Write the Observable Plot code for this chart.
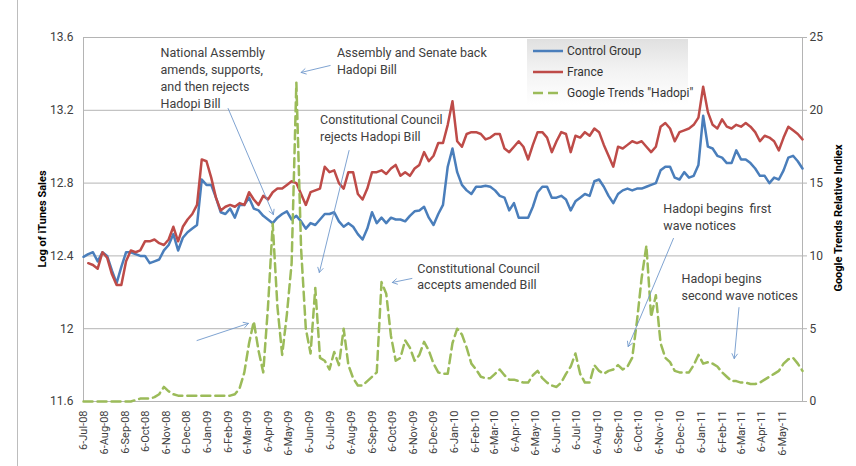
<!DOCTYPE html>
<html>
<head>
<meta charset="utf-8">
<script src="https://cdn.jsdelivr.net/npm/d3@7"></script>
<script src="https://cdn.jsdelivr.net/npm/@observablehq/plot@0.6"></script>
<style>
html,body{margin:0;padding:0;background:#fff;}
#wrap{position:relative;width:856px;height:466px;overflow:hidden;font-family:Roboto,"Noto Sans",sans-serif;}
#chart svg{position:absolute;left:0;top:0;}
.atitle{position:absolute;font-weight:bold;font-size:11px;color:#000;white-space:nowrap;transform:translate(-50%,-50%) rotate(-90deg);}
#legend{position:absolute;left:527px;top:39px;width:161px;height:66px;background:linear-gradient(to bottom,#e0e0e0 0%,#f2f2f2 45%,rgba(255,255,255,0) 100%);font-size:12px;color:#333;}
#legend .lg{position:absolute;left:6px;height:16px;display:flex;align-items:center;white-space:nowrap;}
#legend .lg svg{display:block;margin-right:4px;}
#border{position:absolute;left:17px;top:0;width:835px;height:470px;border-left:1px solid #bdbdbd;}
</style>
</head>
<body>
<div id="wrap">
  <div id="border"></div>
  <div id="chart"></div>
  <div id="legend"></div>
  <div class="atitle" id="ltitle" style="left:42px;top:219px;"></div>
  <div class="atitle" id="rtitle" style="left:838px;top:218px;"></div>
</div>
<script>
// ---- data ----
const firstWeek = "2008-07-06"; // weekly observations, one per week
const controlGroup = [
12.395,12.41,12.42,12.37,12.42,12.40,12.32,12.25,12.34,12.42,
12.42,12.41,12.40,12.40,12.36,12.37,12.38,12.43,12.46,12.52,
12.43,12.50,12.53,12.55,12.57,12.82,12.79,12.79,12.72,12.64,
12.63,12.66,12.61,12.68,12.68,12.72,12.66,12.65,12.62,12.60,
12.58,12.61,12.63,12.645,12.60,12.62,12.59,12.55,12.58,12.57,
12.60,12.63,12.63,12.64,12.59,12.56,12.58,12.56,12.52,12.49,
12.55,12.64,12.58,12.61,12.58,12.61,12.60,12.60,12.59,12.62,
12.645,12.65,12.67,12.61,12.57,12.63,12.68,12.89,12.99,12.86,
12.79,12.76,12.74,12.78,12.78,12.785,12.78,12.76,12.73,12.72,
12.65,12.69,12.61,12.61,12.61,12.67,12.75,12.78,12.78,12.72,
12.72,12.73,12.71,12.65,12.70,12.72,12.74,12.73,12.81,12.82,
12.78,12.73,12.69,12.74,12.76,12.77,12.76,12.77,12.77,12.78,
12.79,12.80,12.87,12.89,12.89,12.83,12.82,12.86,12.83,12.84,
12.90,13.17,13.00,12.99,12.95,12.94,12.91,12.91,12.98,12.93,
12.93,12.91,12.88,12.84,12.84,12.80,12.83,12.82,12.87,12.94,
12.95,12.92,12.88];
const france = [
null,12.36,12.35,12.33,12.42,12.39,12.30,12.24,12.24,12.37,
12.43,12.42,12.43,12.48,12.48,12.49,12.47,12.46,12.49,12.56,
12.48,12.56,12.60,12.63,12.68,12.93,12.92,12.83,12.72,12.65,
12.67,12.68,12.67,12.69,12.68,12.75,12.71,12.68,12.73,12.71,
12.75,12.77,12.77,12.79,12.81,12.80,12.74,12.68,12.75,12.76,
12.77,12.89,12.86,12.87,12.80,12.77,12.86,12.86,12.74,12.71,
12.77,12.86,12.86,12.87,12.85,12.88,12.90,12.84,12.86,12.84,
12.88,12.90,12.97,12.92,12.95,13.02,13.02,13.12,13.25,13.03,
13.00,13.07,13.08,13.08,13.07,13.04,13.05,13.07,13.07,12.99,
12.97,13.00,13.03,13.00,12.93,13.01,13.08,13.08,13.05,12.97,
13.03,13.08,13.07,12.97,13.06,13.05,13.08,13.06,13.10,13.08,
13.01,12.95,12.89,13.00,12.99,13.01,13.03,13.02,13.03,13.00,
12.97,13.00,13.11,13.13,13.10,13.03,13.08,13.09,13.10,13.12,
13.16,13.33,13.19,13.12,13.10,13.15,13.11,13.10,13.12,13.11,
13.13,13.11,13.08,13.03,13.06,13.05,13.03,12.98,13.05,13.11,
13.09,13.07,13.04];
const googleTrends = [
0,0,0,0,0,0,0,0,0,0,
0,0.1,0.2,0.2,0.2,0.3,0.5,1.0,0.7,0.5,
0.4,0.4,0.4,0.4,0.4,0.4,0.4,0.4,0.4,0.4,
0.4,0.4,0.5,0.9,2.0,4.0,5.5,3.5,2.0,6.5,
12.2,6.5,3.2,6.0,9.5,21.9,10.5,5.0,3.3,7.8,
3.0,2.8,2.2,3.4,2.5,5.0,2.5,1.6,1.1,1.1,
1.4,1.7,2.0,8.2,7.4,4.5,2.8,3.0,4.2,3.7,
2.8,3.2,4.1,3.5,2.6,2.0,1.9,1.9,4.0,5.0,
4.6,3.7,2.6,2.2,1.7,1.6,1.6,1.9,2.2,1.8,
1.5,1.5,1.4,1.3,1.3,1.8,2.1,1.6,1.3,1.1,
1.0,1.3,1.9,2.4,3.3,1.9,1.3,1.3,2.5,2.1,
1.9,2.1,2.2,2.5,2.2,2.4,3.0,5.5,8.5,10.7,
5.8,7.3,4.0,3.0,2.7,2.1,2.0,2.0,2.0,2.5,
3.2,2.6,2.7,2.6,2.4,2.0,1.7,1.4,1.4,1.3,
1.3,1.2,1.2,1.3,1.5,1.7,1.9,2.1,2.6,2.9,
3.0,2.6,2.1];

const leftTicks = [11.6, 12, 12.4, 12.8, 13.2, 13.6];
const rightTicks = [0, 5, 10, 15, 20, 25];
const monthTicks = [
"2008-07-06","2008-08-06","2008-09-06","2008-10-06","2008-11-06","2008-12-06",
"2009-01-06","2009-02-06","2009-03-06","2009-04-06","2009-05-06","2009-06-06",
"2009-07-06","2009-08-06","2009-09-06","2009-10-06","2009-11-06","2009-12-06",
"2010-01-06","2010-02-06","2010-03-06","2010-04-06","2010-05-06","2010-06-06",
"2010-07-06","2010-08-06","2010-09-06","2010-10-06","2010-11-06","2010-12-06",
"2011-01-06","2011-02-06","2011-03-06","2011-04-06","2011-05-06"];

const seriesNames = ["Control Group", "France", "Google Trends \"Hadopi\""];
const seriesColors = ["#4a7ebb", "#be4b48", "#9bbb59"];
const leftTitle = "Log of iTunes Sales";
const rightTitle = "Google Trends Relative Indiex";

// annotations (in data coordinates: date, left-axis value)
const noteTexts = [
  "National Assembly\namends, supports,\nand then rejects\nHadopi Bill",
  "Assembly and Senate back\nHadopi Bill",
  "Constitutional Council\nrejects Hadopi Bill",
  "Constitutional Council\naccepts amended Bill",
  "Hadopi begins  first\nwave notices",
  "Hadopi begins\nsecond wave notices"];
const noteDates = ["2008-10-28","2009-07-16","2009-06-21","2009-11-12","2010-11-11","2010-12-08"];
const noteValues = [13.383, 13.474, 13.108, 12.292, 12.619, 12.237];

const arrowFromDates = ["2009-02-05","2008-12-21","2009-07-06","2009-08-03","2009-11-04","2010-11-26","2011-03-03"];
const arrowFromValues = [13.21, 11.935, 13.446, 12.979, 12.276, 12.496, 12.116];
const arrowToDates = ["2009-04-13","2009-03-07","2009-05-24","2009-06-20","2009-10-06","2010-09-20","2011-02-24"];
const arrowToValues = [12.627, 12.029, 13.408, 12.309, 12.254, 11.902, 11.836];

// ---- build tables ----
const Y0 = leftTicks[0], Y1 = leftTicks[leftTicks.length - 1];
const R1 = rightTicks[rightTicks.length - 1];
const toLeft = g => Y0 + g * (Y1 - Y0) / R1;       // secondary axis -> primary scale
const toRight = v => (v - Y0) * R1 / (Y1 - Y0);

const t0 = new Date(firstWeek + "T00:00:00Z");
const rows = controlGroup.map((c, i) => ({
  date: d3.utcDay.offset(t0, 7 * i),
  control: c,
  france: france[i],
  trends: toLeft(googleTrends[i])
}));
const endDate = rows[rows.length - 1].date;
const D = s => new Date(s + "T00:00:00Z");
const notes = noteTexts.map((t, i) => ({text: t, date: D(noteDates[i]), v: noteValues[i]}));
const arrows = arrowFromDates.map((d, i) => ({
  x1: D(d), y1: arrowFromValues[i], x2: D(arrowToDates[i]), y2: arrowToValues[i]}));

const fmtLeft = d => (Math.abs(d - 12) < 1e-9 ? "12" : d.toFixed(1));
const fmtMonth = d3.utcFormat("%-d-%b-%y");

const chart = Plot.plot({
  width: 856, height: 466,
  marginLeft: 83, marginRight: 54, marginTop: 37, marginBottom: 65,
  style: {fontFamily: "Roboto, 'Noto Sans', sans-serif", fontSize: "12px", color: "#404040", background: "transparent", overflow: "visible"},
  x: {type: "utc", domain: [t0, endDate]},
  y: {domain: [Y0, Y1]},
  marks: [
    Plot.gridY(leftTicks, {stroke: "#b4b4b4", strokeOpacity: 1}),
    Plot.frame({stroke: "#b4b4b4"}),
    Plot.axisY(leftTicks, {anchor: "left", tickSize: 0, tickPadding: 10, tickFormat: fmtLeft, label: null, fontSize: 12}),
    Plot.axisY(rightTicks.map(toLeft), {anchor: "right", tickSize: 4, tickPadding: 3, stroke: "#b4b4b4", tickFormat: d => String(Math.round(toRight(d))), label: null, fontSize: 12}),
    Plot.axisX(monthTicks.map(D), {anchor: "bottom", tickSize: 0, tickPadding: 9, tickRotate: -90, tickFormat: fmtMonth, label: null, fontSize: 11}),
    Plot.line(rows, {x: "date", y: "control", stroke: seriesColors[0], strokeWidth: 2.5, curve: "linear"}),
    Plot.line(rows.filter(r => r.france != null), {x: "date", y: "france", stroke: seriesColors[1], strokeWidth: 2.5}),
    Plot.line(rows, {x: "date", y: "trends", stroke: seriesColors[2], strokeWidth: 2.5, strokeDasharray: "9,5"}),
    Plot.arrow(arrows, {x1: "x1", y1: "y1", x2: "x2", y2: "y2", stroke: "#7099cc", strokeWidth: 0.9, headLength: 9}),
    Plot.text(notes, {x: "date", y: "v", text: "text", textAnchor: "start", lineAnchor: "middle", lineHeight: 1.36, fontSize: 12.5, fill: "#404040"})
  ]
});
document.getElementById("chart").appendChild(chart);

// titles
document.getElementById("ltitle").textContent = leftTitle;
document.getElementById("rtitle").textContent = rightTitle;

// legend
const lg = document.getElementById("legend");
seriesNames.forEach((name, i) => {
  const row = document.createElement("div");
  row.className = "lg";
  row.style.top = (4 + i * 21) + "px";
  const dash = i === 2 ? 'stroke-dasharray="10,5"' : "";
  row.innerHTML = `<svg width="30" height="6"><line x1="0" y1="3" x2="30" y2="3" stroke="${seriesColors[i]}" stroke-width="2.5" ${dash}/></svg><span>${name.replace(/"/g, "&quot;")}</span>`;
  lg.appendChild(row);
});
</script>
</body>
</html>
